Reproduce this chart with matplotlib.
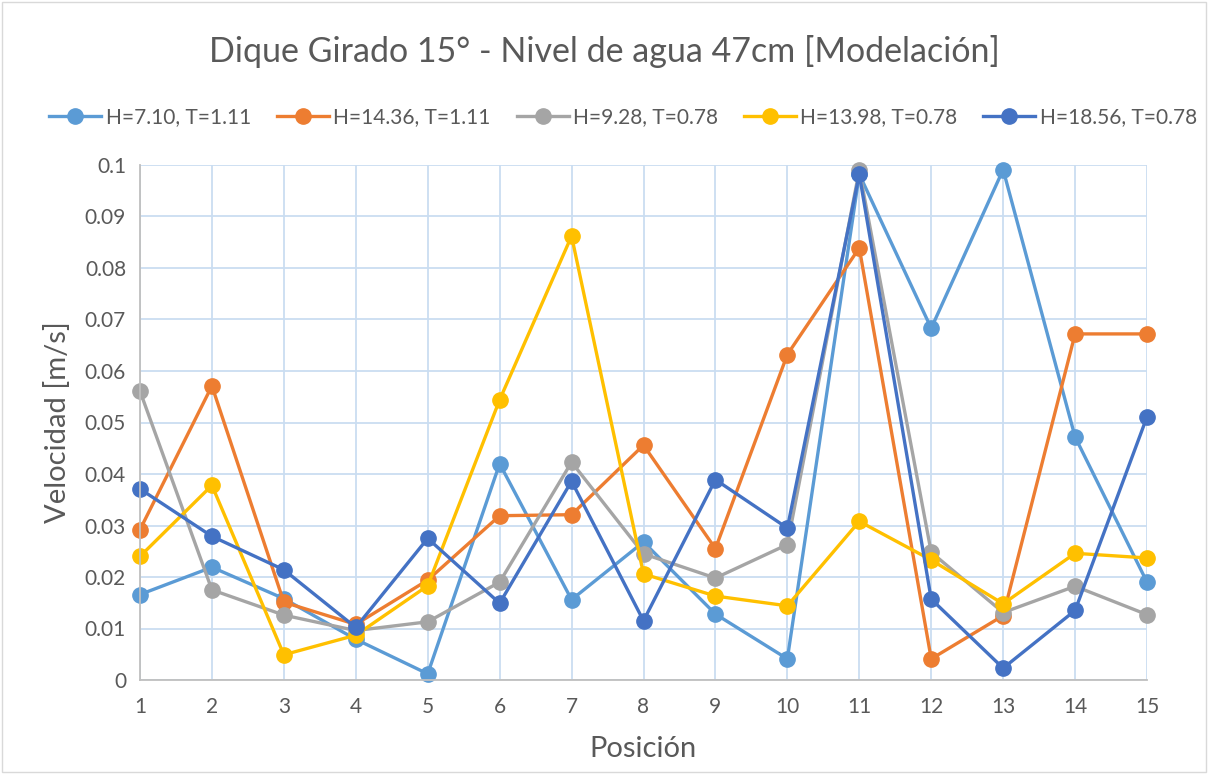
import numpy as np
import matplotlib
matplotlib.use("Agg")
import matplotlib.pyplot as plt
from matplotlib.ticker import FuncFormatter, MultipleLocator
from matplotlib.patches import Rectangle

plt.rcParams['font.family'] = ['Lato', 'DejaVu Sans']

posicion = list(range(1, 16))
labels = ['H=7.10, T=1.11', 'H=14.36, T=1.11', 'H=9.28, T=0.78',
          'H=13.98, T=0.78', 'H=18.56, T=0.78']
colors = ['#5B9BD5', '#ED7D31', '#A5A5A5', '#FFC000', '#4472C4']

h710 = [0.0166, 0.0219, 0.0158, 0.0079, 0.0012, 0.0420, 0.0156, 0.0268,
        0.0128, 0.0041, 0.0982, 0.0683, 0.0991, 0.0472, 0.0190]
h1436 = [0.0292, 0.0571, 0.0151, 0.0108, 0.0194, 0.0319, 0.0321, 0.0456,
         0.0255, 0.0632, 0.0839, 0.0041, 0.0125, 0.0672, 0.0672]
h928 = [0.0561, 0.0175, 0.0126, 0.0096, 0.0113, 0.0190, 0.0423, 0.0245,
        0.0198, 0.0263, 0.0990, 0.0248, 0.0131, 0.0182, 0.0127]
h1398 = [0.0240, 0.0378, 0.0049, 0.0087, 0.0183, 0.0544, 0.0862, 0.0206,
         0.0163, 0.0144, 0.0308, 0.0233, 0.0148, 0.0246, 0.0237]
h1856 = [0.0371, 0.0279, 0.0214, 0.0102, 0.0275, 0.0149, 0.0386, 0.0115,
         0.0389, 0.0295, 0.0982, 0.0157, 0.0023, 0.0135, 0.0511]
series = [h710, h1436, h928, h1398, h1856]

TXT = '#595959'
fig = plt.figure(figsize=(12.08, 7.74), dpi=100)
ax = fig.add_axes([140/1208, 1 - 680/774, (1147 - 140)/1208, (680 - 165)/774])

for ys, lab, c in zip(series, labels, colors):
    ax.plot(posicion, ys, color=c, lw=2.4, marker='o', ms=11, label=lab,
            clip_on=False, solid_joinstyle='round')

ax.set_xlim(1, 15)
ax.set_ylim(0, 0.1)
ax.xaxis.set_major_locator(MultipleLocator(1))
ax.yaxis.set_major_locator(MultipleLocator(0.01))
ax.yaxis.set_major_formatter(FuncFormatter(lambda v, p: f"{round(v, 3):g}"))
ax.grid(True, color='#CADDF1', lw=1.3)
ax.set_axisbelow(True)
ax.spines[['top', 'right']].set_visible(False)
ax.spines[['left', 'bottom']].set_color('#BFBFBF')
ax.spines[['left', 'bottom']].set_linewidth(1.3)
ax.tick_params(axis='both', length=0, labelsize=15, colors=TXT)
ax.tick_params(axis='x', pad=12)
ax.tick_params(axis='y', pad=10)

ax.set_xlabel('Posición', fontsize=21, color=TXT, labelpad=14)
ax.set_ylabel('Velocidad [m/s]', fontsize=21, color=TXT, labelpad=10)
fig.text(0.5, 1 - 52/774, 'Dique Girado 15° - Nivel de agua 47cm [Modelación]',
         ha='center', va='center', fontsize=24.5, color=TXT)
fig.legend(loc='center', bbox_to_anchor=(623/1208, 1 - 117/774), ncol=5,
           frameon=False, fontsize=15, handlelength=2.5, columnspacing=1.25,
           handletextpad=0.2, labelcolor=TXT)

fig.patches.append(Rectangle((0.002, 0.002), 0.996, 0.996, transform=fig.transFigure,
                             fill=False, edgecolor='#D9D9D9', lw=1))
fig.savefig('out.png', dpi=100, facecolor='white')
